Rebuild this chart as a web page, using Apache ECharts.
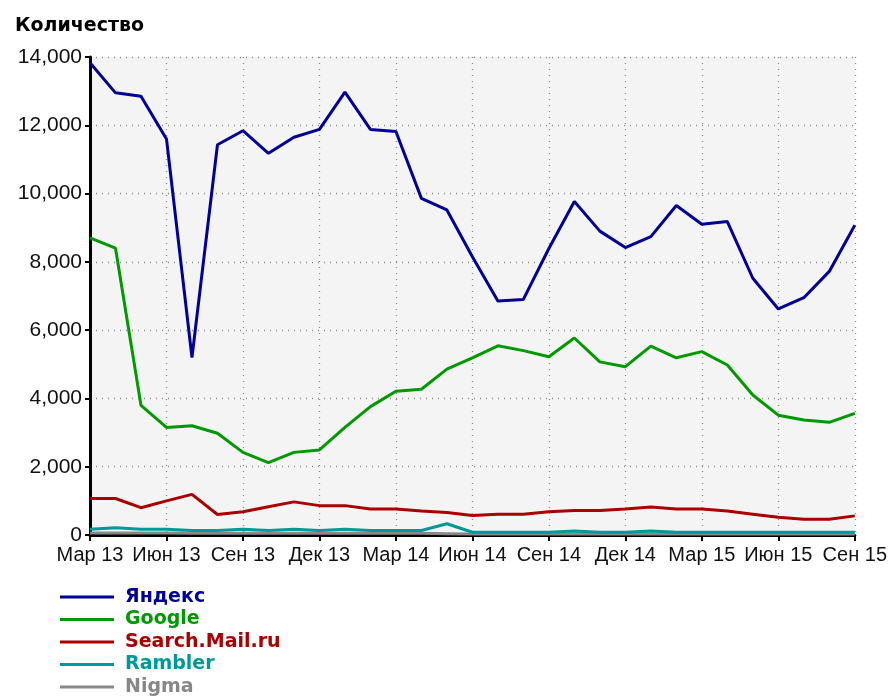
<!DOCTYPE html>
<html>
<head>
<meta charset="utf-8">
<script src="https://cdn.jsdelivr.net/npm/echarts@6/dist/echarts.min.js"></script>
<style>
  html, body { margin: 0; padding: 0; background: #fff; }
  #chart { width: 890px; height: 696px; }
</style>
</head>
<body>
<div id="chart"></div>
<script>
// monthly points, Mar 2013 .. Sep 2015
const months = ['Мар 13', 'Апр 13', 'Май 13', 'Июн 13', 'Июл 13', 'Авг 13', 'Сен 13', 'Окт 13', 'Ноя 13', 'Дек 13',
  'Янв 14', 'Фев 14', 'Мар 14', 'Апр 14', 'Май 14', 'Июн 14', 'Июл 14', 'Авг 14', 'Сен 14', 'Окт 14', 'Ноя 14', 'Дек 14',
  'Янв 15', 'Фев 15', 'Мар 15', 'Апр 15', 'Май 15', 'Июн 15', 'Июл 15', 'Авг 15', 'Сен 15']
const yandex = [13830, 12950, 12850, 11600, 5200, 11430, 11840, 11180, 11650, 11880, 12970, 11880, 11820, 9860, 9520,
  8150, 6850, 6900, 8390, 9770, 8900, 8420, 8740, 9650, 9100, 9180, 7520, 6620, 6950, 7720, 9070]
const google = [8700, 8400, 3800, 3150, 3200, 2980, 2420, 2120, 2420, 2490, 3150, 3760, 4210, 4270, 4860,
  5190, 5540, 5400, 5220, 5770, 5070, 4930, 5530, 5190, 5370, 4980, 4100, 3510, 3370, 3300, 3560]
const mail = [1070, 1070, 800, 1000, 1190, 600, 680, 830, 970, 860, 860, 760, 760, 700, 660,
  570, 610, 610, 680, 720, 720, 760, 820, 760, 760, 700, 610, 520, 460, 460, 560]
const rambler = [170, 210, 170, 170, 130, 130, 170, 130, 170, 130, 170, 130, 130, 130, 330,
  80, 80, 80, 80, 120, 80, 80, 120, 80, 80, 80, 80, 80, 80, 80, 80]
const nigma = [60, 60, 60, 60, 50, 50, 50, 50, 50, 50, 50, 50, 50, 50, 40,
  30, 30, 30, 30, 30, 30, 30, 30, 30, 30, 30, 30, 30, 30, 30, 30]

const names = ['Яндекс', 'Google', 'Search.Mail.ru', 'Rambler', 'Nigma']
const colors = ['#000099', '#009900', '#aa0000', '#009999', '#888888']
const values = [yandex, google, mail, rambler, nigma]

const chart = echarts.init(document.getElementById('chart'))
const gridLine = { show: true, lineStyle: { color: '#8c8c8c', type: [1, 5], width: 1.3 } }

// legend is split in two so the last row may run off the bottom edge like in the original
const legendBase = {
  orient: 'vertical',
  left: 55,
  icon: 'rect',
  itemWidth: 54,
  itemHeight: 3,
  itemGap: 2.5,
  textStyle: {
    fontFamily: 'DejaVu Sans', fontWeight: 'bold', fontSize: 19, lineHeight: 20,
    padding: [0, 0, 0, 6]
  }
}
const legendItem = i => ({ name: names[i], textStyle: { color: colors[i] } })

chart.setOption({
  animation: false,
  title: {
    text: 'Количество',
    left: 10,
    top: 12,
    textStyle: { fontFamily: 'DejaVu Sans', fontWeight: 'bold', fontSize: 19, color: '#000' }
  },
  grid: {
    left: 90, top: 57, right: 34, bottom: 161,
    show: true, backgroundColor: '#f4f4f4', borderWidth: 0
  },
  legend: [
    Object.assign({}, legendBase, { top: 582, data: [0, 1, 2, 3].map(legendItem) }),
    Object.assign({}, legendBase, { top: 672, data: [legendItem(4)] })
  ],
  xAxis: {
    type: 'category',
    data: months,
    boundaryGap: false,
    axisLine: { lineStyle: { color: '#000', width: 3 } },
    axisTick: { interval: 2, length: 6, lineStyle: { color: '#000', width: 2 } },
    axisLabel: {
      interval: 2, margin: 10, color: '#111',
      fontFamily: 'Liberation Sans', fontSize: 20
    },
    splitLine: Object.assign({ interval: 2 }, gridLine)
  },
  yAxis: {
    type: 'value',
    min: 0, max: 14000, interval: 2000,
    axisLine: { show: true, lineStyle: { color: '#000', width: 3 } },
    axisTick: { show: true, length: 5, lineStyle: { color: '#000', width: 2 } },
    axisLabel: {
      margin: 8, color: '#111', fontFamily: 'Liberation Sans', fontSize: 21,
      formatter: v => v.toString().replace(/\B(?=(\d{3})+(?!\d))/g, ',')
    },
    splitLine: gridLine
  },
  series: names.map((n, i) => ({
    name: n,
    type: 'line',
    data: values[i],
    showSymbol: false,
    symbol: 'none',
    color: colors[i],
    lineStyle: { width: 3, color: colors[i] },
    z: 10 - i
  }))
})
</script>
</body>
</html>
